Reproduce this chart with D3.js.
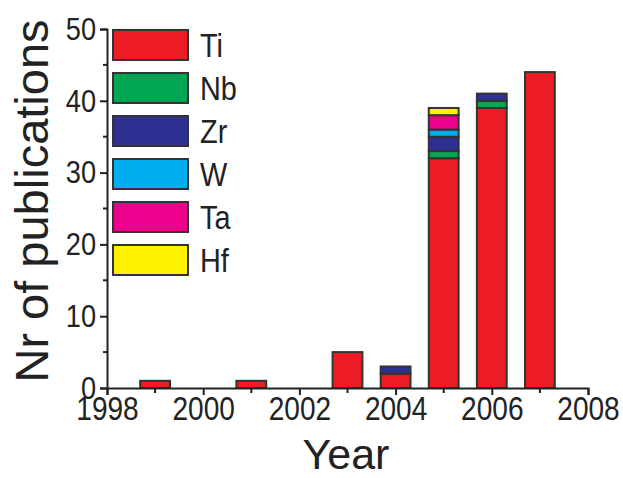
<!DOCTYPE html>
<html>
<head>
<meta charset="utf-8">
<script src="https://cdn.jsdelivr.net/npm/d3@7"></script>
<style>
  body { margin: 0; background: #fff; }
  svg { font-family: "Liberation Sans", Arial, sans-serif; }
</style>
</head>
<body>
<script>
// data
let years = [1999, 2001, 2003, 2004, 2005, 2006, 2007];
let metals = ["Ti", "Nb", "Zr", "W", "Ta", "Hf"];
let ti = [1, 1, 5, 2, 32, 39, 44];
let nb = [0, 0, 0, 0, 1, 1, 0];
let zr = [0, 0, 0, 1, 2, 1, 0];
let w  = [0, 0, 0, 0, 1, 0, 0];
let ta = [0, 0, 0, 0, 2, 0, 0];
let hf = [0, 0, 0, 0, 1, 0, 0];
let xTicks = [1998, 2000, 2002, 2004, 2006, 2008];
let yTicks = [0, 10, 20, 30, 40, 50];

let colors = ["#ed1c24", "#00a651", "#2e3192", "#00aeef", "#ec008c", "#fff200"];

let width = 623, height = 478;
let squeeze = 0.85; // tick labels look condensed in the original
let svg = d3.select("body").append("svg")
    .attr("width", width)
    .attr("height", height);

let x = d3.scaleLinear([1998, 2008], [107, 588]);
let y = d3.scaleLinear([0, 50], [388, 29]);

let table = years.map((yr, i) => ({
    year: yr, Ti: ti[i], Nb: nb[i], Zr: zr[i], W: w[i], Ta: ta[i], Hf: hf[i]
}));
let stacked = d3.stack().keys(metals)(table);

let barHalf = 0.31;
svg.append("g")
    .selectAll("g")
    .data(stacked)
    .join("g")
      .attr("fill", (d, i) => colors[i])
    .selectAll("rect")
    .data(d => d.filter(p => p[1] > p[0]))
    .join("rect")
      .attr("x", d => x(d.data.year - barHalf))
      .attr("width", d => x(d.data.year + barHalf) - x(d.data.year - barHalf))
      .attr("y", d => y(d[1]))
      .attr("height", d => y(d[0]) - y(d[1]))
      .attr("stroke", "#333")
      .attr("stroke-width", 2);

// x axis
let gx = svg.append("g")
    .attr("transform", `translate(0,${y(0)})`)
    .call(d3.axisBottom(x).tickValues(xTicks).tickFormat(d3.format("d")).tickSize(7).tickPadding(2));
gx.select(".domain").attr("stroke", "#222").attr("stroke-width", 2);
gx.selectAll(".tick line").attr("stroke", "#222").attr("stroke-width", 2);
gx.selectAll(".tick text")
    .attr("font-size", 33)
    .attr("font-family", "Liberation Sans, Arial, sans-serif")
    .attr("fill", "#222")
    .attr("transform", `scale(${squeeze},1)`);
gx.append("g").selectAll("line")
    .data(d3.range(1999, 2008, 2))
    .join("line")
      .attr("x1", d => x(d)).attr("x2", d => x(d))
      .attr("y1", 0).attr("y2", 5)
      .attr("stroke", "#222").attr("stroke-width", 2);

// y axis
let gy = svg.append("g")
    .attr("transform", `translate(${x(1998)},0)`)
    .call(d3.axisLeft(y).tickValues(yTicks).tickSize(7).tickPadding(4));
gy.select(".domain").attr("stroke", "#222").attr("stroke-width", 2);
gy.selectAll(".tick line").attr("stroke", "#222").attr("stroke-width", 2);
gy.selectAll(".tick text")
    .attr("font-size", 32)
    .attr("font-family", "Liberation Sans, Arial, sans-serif")
    .attr("fill", "#222")
    .attr("x", -11 / squeeze)
    .attr("transform", `scale(${squeeze},1)`);
gy.append("g").selectAll("line")
    .data(d3.range(5, 50, 10))
    .join("line")
      .attr("y1", d => y(d)).attr("y2", d => y(d))
      .attr("x1", 0).attr("x2", -4)
      .attr("stroke", "#222").attr("stroke-width", 2);

// axis titles
svg.append("text")
    .attr("x", 346)
    .attr("y", 469)
    .attr("text-anchor", "middle")
    .attr("font-size", 43)
    .attr("fill", "#222")
    .text("Year");

svg.append("text")
    .attr("transform", `translate(48,201) rotate(-90)`)
    .attr("text-anchor", "middle")
    .attr("font-size", 47)
    .attr("fill", "#222")
    .text("Nr of publications");

// legend
let legend = svg.append("g")
    .selectAll("g")
    .data(metals)
    .join("g")
      .attr("transform", (d, i) => `translate(113,${30 + i * 43})`);
legend.append("rect")
    .attr("width", 75)
    .attr("height", 30)
    .attr("fill", (d, i) => colors[i])
    .attr("stroke", "#333")
    .attr("stroke-width", 2);
legend.append("text")
    .attr("transform", `translate(87,15) scale(${squeeze},1)`)
    .attr("dy", "0.36em")
    .attr("font-size", 34)
    .attr("fill", "#222")
    .text(d => d);
</script>
</body>
</html>
